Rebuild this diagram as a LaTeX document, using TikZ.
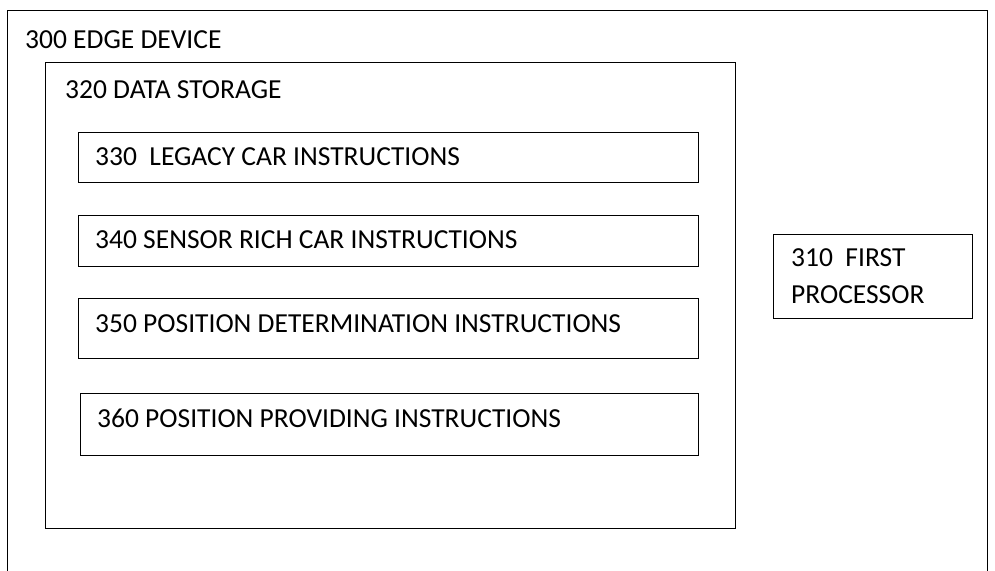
\documentclass[tikz,border=0pt]{standalone}
\usepackage{fontspec}
\setmainfont{Carlito}
\usetikzlibrary{calc}
\tikzset{
  blk/.style={draw=black, line width=1.4pt, rectangle, inner sep=0pt, anchor=north west},
  lbl/.style={anchor=west, inner sep=0pt, font=\fontsize{27.5}{37}\selectfont, align=left},
}
\begin{document}
\begin{tikzpicture}[x=1pt,y=-1pt]
  \useasboundingbox (0,0) rectangle (995,570);
  \clip (0,0) rectangle (995,570);
  % edge device enclosure (continues below the page edge)
  \node[blk, minimum width=980pt, minimum height=600pt] (dev) at (7,10) {};
  \node[lbl] (devt) at (25,40) {300 EDGE DEVICE};
  % data storage
  \node[blk, minimum width=690pt, minimum height=466pt] (ds) at (45,62) {};
  \node[lbl] (dst) at (65,90) {320 DATA STORAGE};
  % instruction blocks
  \node[blk, minimum width=620pt, minimum height=50pt] (i330) at (78,132) {};
  \node[lbl] (t330) at (95,157) {330\ \ LEGACY CAR INSTRUCTIONS};
  \node[blk, minimum width=620pt, minimum height=51pt] (i340) at (78,215) {};
  \node[lbl] (t340) at (95,240) {340 SENSOR RICH CAR INSTRUCTIONS};
  \node[blk, minimum width=620pt, minimum height=60pt] (i350) at (78,298) {};
  \node[lbl] (t350) at (95,324) {350 POSITION DETERMINATION INSTRUCTIONS};
  \node[blk, minimum width=618pt, minimum height=62pt] (i360) at (80,393) {};
  \node[lbl] (t360) at (97,418) {360 POSITION PROVIDING INSTRUCTIONS};
  % processor
  \node[blk, minimum width=199pt, minimum height=84pt] (cpu) at (773,234) {};
  \node[lbl, anchor=north west] (cput) at (791,248) {310\ \ FIRST\\PROCESSOR};
\end{tikzpicture}
\end{document}
